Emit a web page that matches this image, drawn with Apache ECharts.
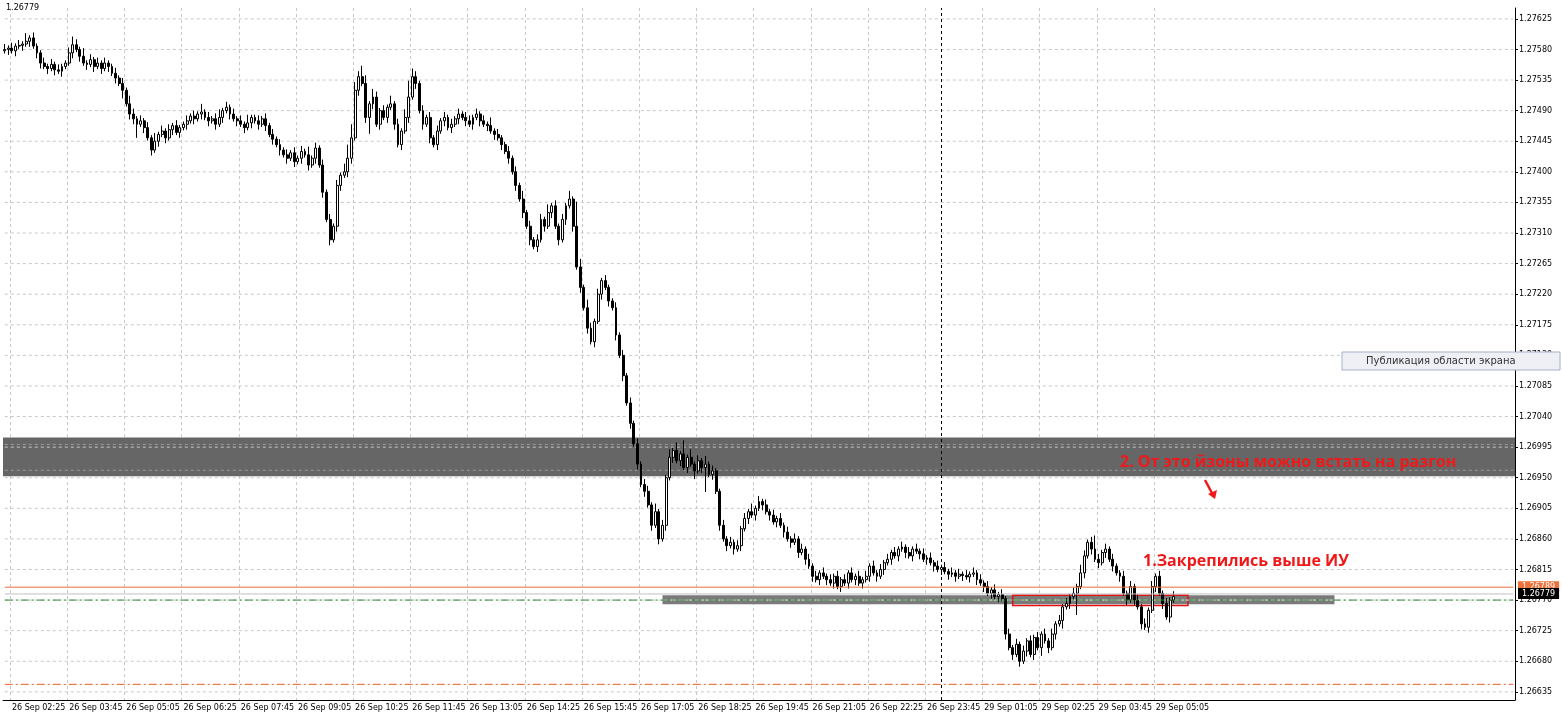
<!DOCTYPE html>
<html>
<head>
<meta charset="utf-8">
<script src="https://cdn.jsdelivr.net/npm/echarts@6/dist/echarts.min.js"></script>
<style>html,body{margin:0;padding:0;background:#fff}#chart{width:1562px;height:715px}</style>
</head>
<body>
<div id="chart"></div>
<script>
// цены закрытия M5, в пунктах от 1.26000
var closes = [
  1580,1582,1578,1585,1586,1588,1592,1597,1585,1575,
  1560,1555,1552,1558,1550,1548,1555,1560,1575,1587,
  1580,1570,1560,1558,1565,1555,1560,1552,1560,1555,
  1545,1538,1530,1520,1500,1485,1478,1470,1475,1465,
  1450,1432,1445,1455,1460,1450,1462,1468,1458,1465,
  1470,1475,1482,1478,1485,1488,1480,1475,1478,1470,
  1480,1490,1495,1485,1478,1475,1470,1465,1472,1480,
  1475,1470,1478,1468,1455,1448,1440,1432,1425,1420,
  1428,1415,1420,1430,1425,1410,1420,1435,1410,1370,
  1330,1300,1320,1380,1395,1400,1420,1450,1520,1540,
  1530,1480,1500,1510,1470,1490,1480,1495,1500,1470,
  1440,1460,1480,1510,1540,1530,1490,1470,1480,1450,
  1440,1460,1475,1480,1465,1470,1478,1485,1480,1475,
  1470,1480,1485,1475,1470,1468,1460,1455,1450,1440,
  1430,1420,1400,1380,1360,1340,1320,1300,1290,1300,
  1330,1320,1340,1350,1320,1300,1330,1350,1360,1320,
  1260,1230,1200,1170,1150,1180,1220,1240,1230,1210,
  1200,1160,1130,1100,1060,1030,1000,970,940,930,
  910,880,900,860,880,950,980,990,975,985,
  965,980,970,960,975,965,970,955,960,930,
  880,860,850,855,845,850,875,890,900,895,
  905,915,910,900,895,885,890,880,870,860,
  855,860,840,845,830,820,805,800,810,805,
  800,795,805,790,800,795,810,800,805,795,
  800,805,820,810,805,815,825,830,840,835,
  845,848,840,835,845,842,838,830,832,825,
  820,815,818,812,808,810,805,808,806,804,
  808,810,800,795,790,780,785,775,778,772,
  720,700,690,705,680,695,710,690,715,700,
  720,710,700,720,735,740,760,765,775,780,
  790,810,835,855,845,830,825,840,845,830,
  820,810,805,780,770,790,770,760,735,730,
  755,790,805,780,765,745,770,775
];
var firstOpen = 1578;
// длина теней, 1 цифра = 4 пункта
var wickUp = '2121213121121212112321312121211212132121213121212112121312123121212131121212121212121312121212135532431321213121363212121212121212212121312112121312122131212131931321212112121212122131213131513121312112121212131212121212121212121212121212121212121212121212121212121212121212121212121212121212121212121321252121211212121212121212121';
var wickDn = '1212121212212121211212121212121213122512121212121212121212121212121212121212121212121212121212212212126212121212121212121212121212121212121212121212121212121212121212121212121212121212121212121312912121212121212121212121212121212121212121212121212121212121212121212121212121212121212121212131212131218121212121212121212121212121212121212121';
var emptySlots = 95;
var timeLabels = ['26 Sep 02:25','26 Sep 03:45','26 Sep 05:05','26 Sep 06:25','26 Sep 07:45','26 Sep 09:05','26 Sep 10:25','26 Sep 11:45','26 Sep 13:05','26 Sep 14:25','26 Sep 15:45','26 Sep 17:05','26 Sep 18:25','26 Sep 19:45','26 Sep 21:05','26 Sep 22:25','26 Sep 23:45','29 Sep 01:05','29 Sep 02:25','29 Sep 03:45','29 Sep 05:05'];
var priceTicks = [1.26635,1.26680,1.26725,1.26770,1.26815,1.26860,1.26905,1.26950,1.26995,1.27040,1.27085,1.27130,1.27175,1.27220,1.27265,1.27310,1.27355,1.27400,1.27445,1.27490,1.27535,1.27580,1.27625];

var P = function (p) { return +(1.26 + p / 100000).toFixed(5); };
var cats = [], ohlc = [];
var prev = firstOpen;
for (var i = 0; i < closes.length; i++) {
  var o = prev, c = closes[i];
  var hi = Math.max(o, c) + 4 * (+wickUp[i] || 1);
  var lo = Math.min(o, c) - 4 * (+wickDn[i] || 1);
  ohlc.push([P(o), P(c), P(lo), P(hi)]);
  prev = c;
}
for (var j = 0; j < closes.length + emptySlots; j++) cats.push(String(j));
var lastCat = cats[cats.length - 1];
var isTick = function (idx) { return idx >= 2 && (idx - 2) % 16 === 0 && (idx - 2) / 16 < timeLabels.length; };

var chart = echarts.init(document.getElementById('chart'));
var font = 'DejaVu Sans';
// горизонтальный уровень как отрезок линии
var level = function (v, color, type, z, from, to) {
  return {
    type: 'line', z: z, silent: true, symbol: 'none', animation: false,
    data: [[from || cats[0], v], [to || lastCat, v]],
    lineStyle: { color: color, type: type, width: 1 }
  };
};
var series = priceTicks.map(function (t) { return level(t, '#c8c8c8', [3, 3], 1); });
series.push({
  type: 'line', data: [], z: 1,
  markArea: {
    silent: true,
    data: [
      [{ yAxis: 1.27009, itemStyle: { color: '#666' } }, { yAxis: 1.26952 }],
      [{ xAxis: '184', yAxis: 1.26777, itemStyle: { color: '#7a7a7a' } }, { xAxis: '372', yAxis: 1.26764 }]
    ]
  },
  markLine: {
    silent: true, symbol: 'none', animation: false,
    data: [{ xAxis: '262', lineStyle: { color: '#000', type: [3, 3], width: 1 }, label: { show: false } }]
  }
});
series.push(level(1.26999, '#9a9a9a', [3, 3], 2));
series.push(level(1.26961, '#9a9a9a', [3, 3], 2));
series.push(level(1.26770, '#e0e0e0', [5, 3], 2, '184', '372'));
series.push({
  type: 'candlestick', data: ohlc, barWidth: 2.4, z: 3,
  itemStyle: { color: '#fff', color0: '#000', borderColor: '#000', borderColor0: '#000', borderWidth: 1 }
});
series.push({
  type: 'line', data: [], z: 4,
  markArea: {
    silent: true,
    data: [[{ xAxis: '282', yAxis: 1.26777, itemStyle: { color: 'rgba(0,0,0,0)', borderColor: '#e01010', borderWidth: 1.5 } }, { xAxis: '331', yAxis: 1.26762 }]]
  }
});
series.push(level(1.26779, '#c0c0c0', 'solid', 4));
series.push(level(1.26789, '#e8703a', 'solid', 4));
series.push(level(1.26770, '#2e8b2e', [8, 3, 2, 3], 4));
series.push(level(1.26646, '#f06030', [8, 3, 2, 3], 4));

var option = {
  animation: false,
  grid: { left: 3, right: 47, top: 8, bottom: 15 },
  xAxis: {
    type: 'category', data: cats, boundaryGap: true,
    axisLine: { lineStyle: { color: '#000' } },
    axisTick: { show: false },
    axisLabel: {
      interval: function (idx) { return isTick(idx); },
      formatter: function (v, idx) { return timeLabels[(idx - 2) / 16] || ''; },
      fontFamily: font, fontSize: 8, color: '#000', margin: 4, align: 'left'
    },
    splitLine: { show: true, interval: function (idx) { return isTick(idx); }, lineStyle: { color: '#c8c8c8', type: [3, 3] } }
  },
  yAxis: {
    type: 'value', position: 'right', min: 1.26623, max: 1.27641, scale: true,
    axisLine: { show: true, lineStyle: { color: '#000' } },
    axisTick: { show: true, customValues: priceTicks, length: 3, lineStyle: { color: '#000' } },
    axisLabel: { customValues: priceTicks, formatter: function (v) { return v.toFixed(5); }, fontFamily: font, fontSize: 8, color: '#000', margin: 4 },
    splitLine: { show: false }
  },
  series: series
};
chart.setOption(option);

var yOf = function (v) { return chart.convertToPixel({ yAxisIndex: 0 }, v); };
var tag = function (v, txt, bg) {
  return { type: 'text', z: 102, left: 1518, top: yOf(v) - 6, style: { text: txt, font: '8px DejaVu Sans', fill: '#fff', backgroundColor: bg, padding: [2, 4, 1, 4] } };
};
chart.setOption({
  graphic: [
    { type: 'text', z: 100, left: 6, top: 4, style: { text: '1.26779', font: '8px DejaVu Sans', fill: '#000' } },
    { type: 'text', z: 100, left: 1120, top: 454, style: { text: '2. От это йзоны можно встать на разгон', font: 'bold 16px "Open Sans"', fill: '#f01818' } },
    { type: 'text', z: 100, left: 1143, top: 553, style: { text: '1.Закрепились выше ИУ', font: 'bold 16px "Open Sans"', fill: '#f01818' } },
    { type: 'line', z: 100, shape: { x1: 1205, y1: 480, x2: 1213, y2: 495 }, style: { stroke: '#f01818', lineWidth: 2.5 } },
    { type: 'polygon', z: 100, shape: { points: [[1208, 494], [1217, 490], [1215, 499]] }, style: { fill: '#f01818' } },
    { type: 'rect', z: 100, shape: { x: 1342, y: 352, width: 218, height: 18 }, style: { fill: '#eef0f6', stroke: '#a8b0c8', lineWidth: 1 } },
    { type: 'text', z: 101, left: 1366, top: 356, style: { text: 'Публикация области экрана', font: '10px DejaVu Sans', fill: '#333' } },
    tag(1.26789, '1.26789', '#f0703a'),
    tag(1.26779, '1.26779', '#000')
  ]
});
</script>
</body>
</html>
